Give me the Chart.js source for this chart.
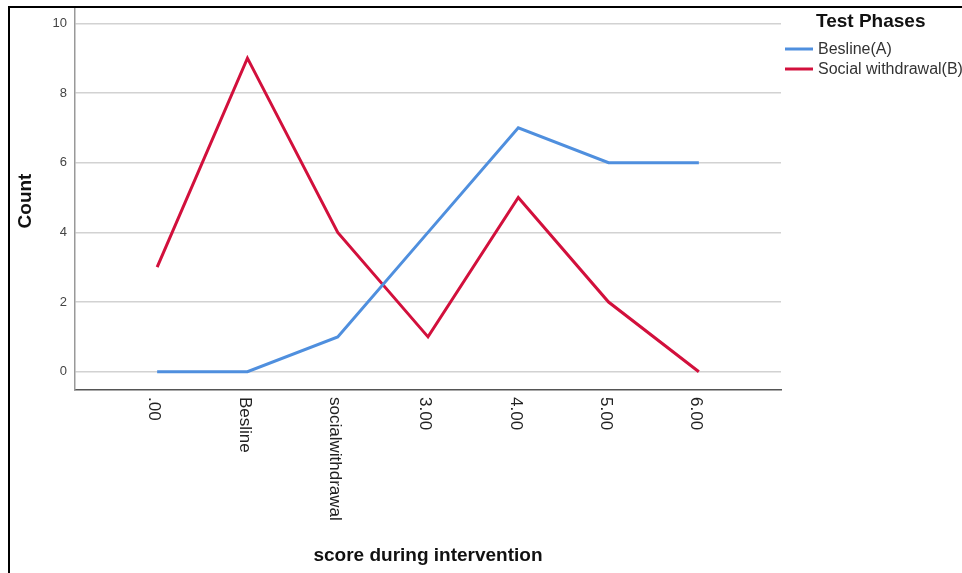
<!DOCTYPE html>
<html>
<head>
<meta charset="utf-8">
<script src="https://cdn.jsdelivr.net/npm/chart.js@4.4.0/dist/chart.umd.min.js"></script>
<style>
  body { margin: 0; background: #fff; }
  #wrap { position: relative; width: 962px; height: 573px; }
  #frame { position: absolute; left: 8px; top: 6px; right: -2px; bottom: -2px; border-left: 2px solid #000; border-top: 2px solid #000; pointer-events: none; }
</style>
</head>
<body>
<div id="wrap">
  <canvas id="chart" width="962" height="573"></canvas>
  <div id="frame"></div>
</div>
<script>
// score categories on the x axis
var categories = ['.00', 'Besline', 'socialwithdrawal', '3.00', '4.00', '5.00', '6.00'];
// counts per phase
var baselineA = [0, 0, 1, 4, 7, 6, 6];
var socialB = [3, 9, 4, 1, 5, 2, 0];
var yTicks = [0, 2, 4, 6, 8, 10];
var seriesNames = ['Besline(A)', 'Social withdrawal(B)'];
var seriesColors = ['#4f8fde', '#d2103c'];

function toPoints(vals) {
    return vals.map(function (v, i) { return { x: i, y: v }; });
}

var FONT = '"Liberation Sans", Arial, sans-serif';

// draws the rotated x labels, axis titles and the legend
var extras = {
    id: 'extras',
    afterDraw: function (chart) {
        var ctx = chart.ctx;
        var xs = chart.scales.x;
        var area = chart.chartArea;
        ctx.save();
        ctx.fillStyle = '#222';
        ctx.font = '17px ' + FONT;
        ctx.textAlign = 'left';
        ctx.textBaseline = 'middle';
        categories.forEach(function (c, i) {
            var px = xs.getPixelForValue(i);
            ctx.save();
            ctx.translate(px - 3, area.bottom + 7);
            ctx.rotate(Math.PI / 2);
            ctx.fillText(c, 0, 0);
            ctx.restore();
        });

        ctx.fillStyle = '#111';
        ctx.font = 'bold 19px ' + FONT;
        ctx.textAlign = 'center';
        ctx.fillText('score during intervention', (area.left + area.right) / 2, 556);
        ctx.save();
        ctx.translate(26, 201);
        ctx.rotate(-Math.PI / 2);
        ctx.fillText('Count', 0, 0);
        ctx.restore();

        // legend
        ctx.textAlign = 'left';
        ctx.fillText('Test Phases', 816, 22);
        ctx.font = '16px ' + FONT;
        ctx.fillStyle = '#333';
        seriesNames.forEach(function (n, i) {
            var y = 49 + i * 20;
            ctx.strokeStyle = seriesColors[i];
            ctx.lineWidth = 3;
            ctx.beginPath();
            ctx.moveTo(785, y);
            ctx.lineTo(813, y);
            ctx.stroke();
            ctx.fillText(n, 818, y + 1);
        });
        ctx.restore();
    }
};

new Chart(document.getElementById('chart').getContext('2d'), {
    type: 'line',
    data: {
        datasets: [
            { label: seriesNames[0], data: toPoints(baselineA), borderColor: seriesColors[0], borderWidth: 3, pointRadius: 0, tension: 0 },
            { label: seriesNames[1], data: toPoints(socialB), borderColor: seriesColors[1], borderWidth: 3, pointRadius: 0, tension: 0 }
        ]
    },
    options: {
        responsive: false,
        animation: false,
        layout: { padding: { left: 9, top: 8, right: 181, bottom: 0 } },
        plugins: { legend: { display: false }, tooltip: { enabled: false } },
        scales: {
            x: {
                type: 'linear',
                min: -0.91,
                max: 6.91,
                afterBuildTicks: function (s) { s.ticks = categories.map(function (c, i) { return { value: i }; }); },
                afterFit: function (s) { s.height = 183; },
                ticks: { display: false },
                grid: { display: false },
                border: { display: true, color: '#555', width: 1.5 }
            },
            y: {
                min: -0.525,
                max: 10.44,
                afterBuildTicks: function (s) { s.ticks = yTicks.map(function (v) { return { value: v }; }); },
                afterFit: function (s) { s.width = 66; s.paddingTop = 0; s.paddingBottom = 0; },
                ticks: { color: '#444', font: { family: FONT, size: 13 }, padding: 8 },
                grid: { color: '#d2d2d2', lineWidth: 1.5, drawTicks: false },
                border: { display: true, color: '#999', width: 1.5 }
            }
        }
    },
    plugins: [extras]
});
</script>
</body>
</html>
